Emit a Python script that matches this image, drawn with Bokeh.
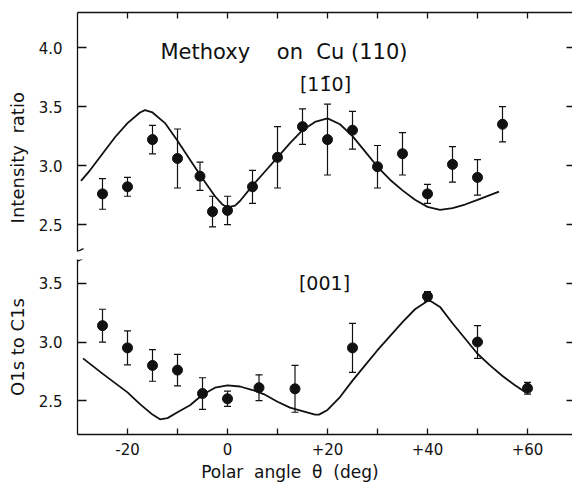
from bokeh.plotting import figure
from bokeh.layouts import column
from bokeh.models import (ColumnDataSource, Whisker, LinearAxis, FixedTicker, Range1d,
                          Label, Arrow, TeeHead, PrintfTickFormatter)
from bokeh.embed import file_html
from bokeh.resources import INLINE

# ---------------- data ----------------
# [1-10] azimuth (upper panel): measured points
top_x = [-25, -20, -15, -10, -5.5, -3, 0, 5, 10, 15, 20, 25, 30, 35, 40, 45, 50, 55]
top_y = [2.76, 2.82, 3.22, 3.06, 2.91, 2.61, 2.62, 2.82, 3.07, 3.33, 3.22, 3.30,
         2.99, 3.10, 2.76, 3.01, 2.90, 3.35]
top_err = [0.13, 0.08, 0.12, 0.25, 0.12, 0.13, 0.12, 0.14, 0.26, 0.15, 0.30, 0.16,
           0.18, 0.18, 0.08, 0.15, 0.15, 0.15]
# [1-10] calculated curve
top_curve_x = [-29.3, -27.5, -25, -22.5, -20, -17.5, -16.5, -15, -12.5, -10, -7.5, -5,
               -2.5, -1, 0, 1.5, 2.5, 5, 7.5, 10, 12.5, 15, 17.5, 20, 22.5, 25, 27.5,
               30, 32.5, 35, 37.5, 40, 42.5, 45, 47.5, 50, 54.3]
top_curve_y = [2.87, 2.96, 3.10, 3.24, 3.36, 3.45, 3.47, 3.45, 3.36, 3.21, 3.05, 2.89,
               2.74, 2.67, 2.645, 2.66, 2.70, 2.83, 2.95, 3.07, 3.19, 3.30, 3.37, 3.40,
               3.35, 3.25, 3.12, 2.99, 2.88, 2.79, 2.71, 2.65, 2.625, 2.64, 2.67, 2.71, 2.78]

# [001] azimuth (lower panel): measured points
bot_x = [-25, -20, -15, -10, -5, 0, 6.3, 13.5, 25, 40, 50, 60]
bot_y = [3.14, 2.95, 2.80, 2.76, 2.56, 2.515, 2.61, 2.60, 2.95, 3.39, 3.00, 2.605]
bot_err = [0.14, 0.145, 0.135, 0.135, 0.135, 0.065, 0.11, 0.20, 0.21, 0.04, 0.14, 0.05]
# [001] calculated curve
bot_curve_x = [-28.9, -25, -20, -17.5, -15, -13.5, -12, -10, -7.5, -5, -2.5, 0, 2.5, 5,
               7.5, 10, 12.5, 15, 17.5, 18.3, 20, 22.5, 25, 27.5, 30, 32.5, 35, 37.5,
               40.3, 42.5, 45, 47.5, 50, 52.5, 55, 57.5, 59.6]
bot_curve_y = [2.86, 2.73, 2.57, 2.47, 2.38, 2.34, 2.35, 2.40, 2.46, 2.55, 2.61, 2.63,
               2.62, 2.59, 2.55, 2.49, 2.44, 2.41, 2.38, 2.38, 2.42, 2.53, 2.67, 2.80,
               2.93, 3.05, 3.17, 3.28, 3.36, 3.30, 3.16, 3.03, 2.90, 2.80, 2.71, 2.63, 2.57]

# ticks
x_major_ticks = [-20, 0, 20, 40, 60]
x_major_labels = ["-20", "0", "+20", "+40", "+60"]
x_minor_ticks = [-10, 10, 30, 50]
top_y_ticks = [2.5, 3.0, 3.5, 4.0]
bot_y_ticks = [2.5, 3.0, 3.5]

INK = "#111111"
FONT = "DejaVu Sans"
NB = "\u00a0"

X0, X1 = -30, 69
FRAME_W = 495
LEFT = 77


def style_axis(ax, tick_len, standoff=0):
    ax.axis_line_color = INK
    ax.axis_line_width = 1.3
    ax.major_tick_line_color = INK
    ax.major_tick_line_width = 1.3
    ax.major_tick_in = tick_len
    ax.major_tick_out = 0
    ax.minor_tick_line_color = INK
    ax.minor_tick_line_width = 1.3
    ax.minor_tick_in = tick_len
    ax.minor_tick_out = 0
    ax.major_label_standoff = standoff
    ax.major_label_text_font = FONT
    ax.major_label_text_color = INK
    ax.major_label_text_font_size = "15px"
    ax.axis_label_text_font = FONT
    ax.axis_label_text_font_style = "normal"
    ax.axis_label_text_color = INK


def make_panel(frame_h, yr, yticks, mb_top, mb_bottom, top_axis, bottom_axis, ylabel):
    p = figure(frame_width=FRAME_W, frame_height=frame_h,
               x_range=Range1d(X0, X1), y_range=Range1d(*yr),
               x_axis_location=None, y_axis_location=None,
               output_backend="svg", toolbar_location=None,
               min_border_left=LEFT, min_border_right=0,
               min_border_top=mb_top, min_border_bottom=mb_bottom)
    p.outline_line_color = None
    p.grid.visible = False
    p.background_fill_color = "white"
    p.border_fill_color = "white"

    left = LinearAxis(ticker=FixedTicker(ticks=yticks),
                      formatter=PrintfTickFormatter(format="%.1f"),
                      axis_label=ylabel)
    style_axis(left, 9, standoff=15)
    left.axis_label_text_font_size = "18px"
    left.axis_label_standoff = 8
    p.add_layout(left, "left")

    right = LinearAxis(ticker=FixedTicker(ticks=[], minor_ticks=yticks))
    style_axis(right, 6)
    right.axis_line_color = None
    p.add_layout(right, "right")
    if top_axis:
        ax = LinearAxis(ticker=FixedTicker(ticks=[], minor_ticks=x_major_ticks + x_minor_ticks))
        style_axis(ax, 6)
        p.add_layout(ax, "above")
    if bottom_axis:
        ax = LinearAxis(ticker=FixedTicker(ticks=x_major_ticks, minor_ticks=x_minor_ticks),
                        major_label_overrides={v: s for v, s in zip(x_major_ticks, x_major_labels)},
                        axis_label="Polar" + NB * 2 + "angle" + NB * 2 + "\u03b8" + NB * 2 + "(deg)" + NB * 13)
        style_axis(ax, 6, standoff=8)
        ax.axis_label_text_font_size = "17px"
        ax.axis_label_standoff = 4
        p.add_layout(ax, "below")
    return p


def add_data(p, xs, ys, errs, cx, cy):
    p.line(cx, cy, line_color=INK, line_width=1.8)
    src = ColumnDataSource(dict(x=xs, y=ys,
                                lo=[y - e for y, e in zip(ys, errs)],
                                hi=[y + e for y, e in zip(ys, errs)]))
    w = Whisker(source=src, base="x", upper="hi", lower="lo",
                line_color=INK, line_width=1.2,
                upper_head=TeeHead(size=7, line_color=INK, line_width=1.2),
                lower_head=TeeHead(size=7, line_color=INK, line_width=1.2))
    p.add_layout(w)
    p.scatter("x", "y", source=src, size=10, color=INK)


# ---------------- upper panel ----------------
TOP_YR = (2.272, 4.297)
p1 = make_panel(239, TOP_YR, top_y_ticks, 12, 4, True, False,
                "Intensity" + NB * 2 + "ratio" + NB * 9)
add_data(p1, top_x, top_y, top_err, top_curve_x, top_curve_y)

p1.add_layout(Label(x=-13.4, y=3.96, text="Methoxy" + NB * 4 + "on" + NB * 2 + "Cu" + NB + "(110)",
                    text_font=FONT, text_font_size="21px", text_color=INK,
                    text_align="left", text_baseline="alphabetic"))
p1.add_layout(Label(x=19.6, y=3.69, text="[11\u03040]",
                    text_font=FONT, text_font_size="19px", text_color=INK,
                    text_align="center", text_baseline="alphabetic"))
# axis break mark (upper)
p1.add_layout(Arrow(end=None, x_start=-31.2, y_start=TOP_YR[0] - 0.025,
                    x_end=-28.8, y_end=TOP_YR[0] + 0.025, line_color=INK, line_width=1.3))

# ---------------- lower panel ----------------
BOT_YR = (2.210, 3.705)
p2 = make_panel(175, BOT_YR, bot_y_ticks, 4, 45, False, True,
                "O1s" + NB + "to" + NB + "C1s")
add_data(p2, bot_x, bot_y, bot_err, bot_curve_x, bot_curve_y)

p2.add_layout(Label(x=19.4, y=3.50, text="[001]",
                    text_font=FONT, text_font_size="19px", text_color=INK,
                    text_align="center", text_baseline="alphabetic"))
# axis break mark (lower)
p2.add_layout(Arrow(end=None, x_start=-31.2, y_start=BOT_YR[1] - 0.04,
                    x_end=-28.8, y_end=BOT_YR[1] + 0.01, line_color=INK, line_width=1.3))

layout = column(p1, p2, spacing=0)
open("out.html", "w").write(file_html(layout, INLINE))
